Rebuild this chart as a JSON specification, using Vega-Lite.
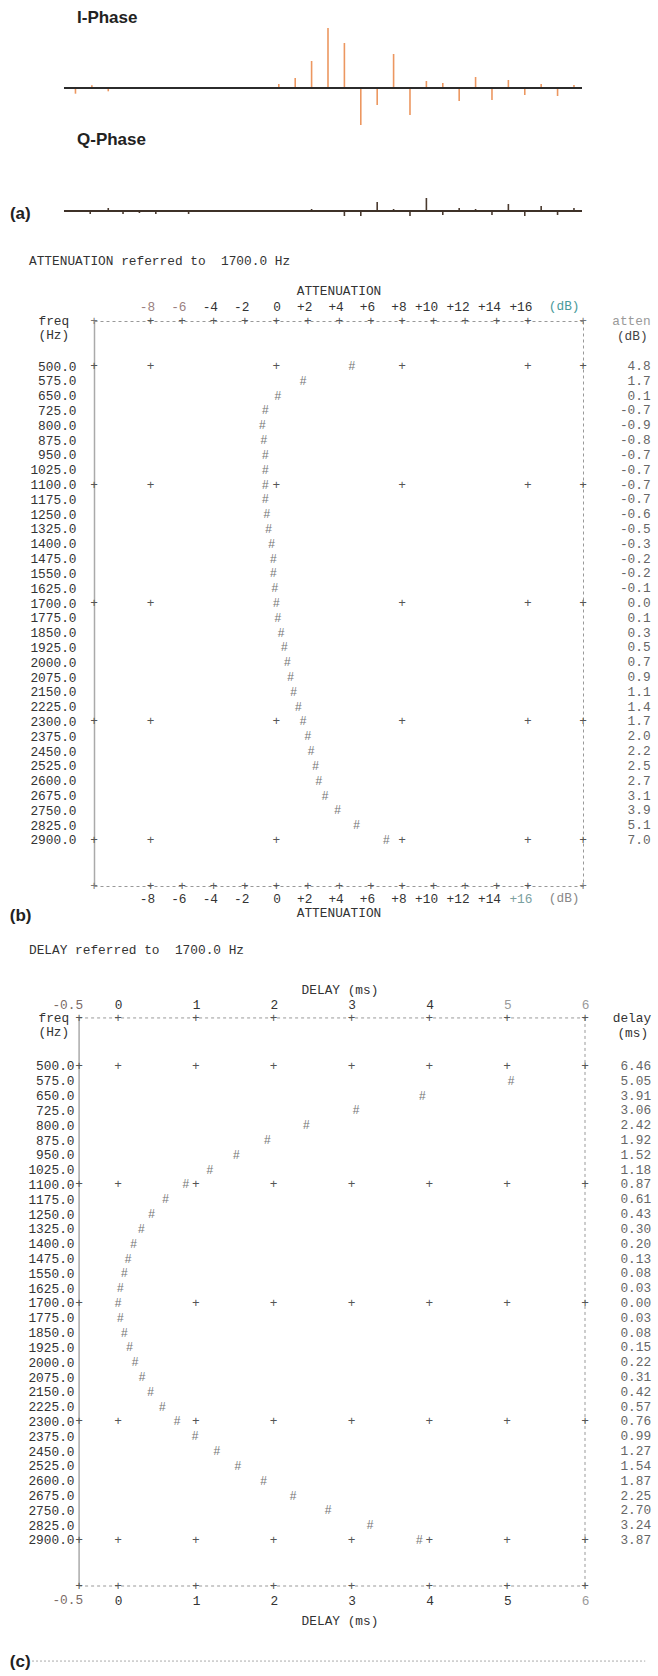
{
  "$schema": "https://vega.github.io/schema/vega-lite/v6.json",
  "padding": {"left": 9, "top": 9, "right": 0, "bottom": 0},
  "bounds": "flush",
  "spacing": 0,
  "config": {
    "view": {"stroke": null},
    "locale": {"number": {"decimal": ".", "thousands": ",", "grouping": [3], "currency": ["$", ""], "minus": "-"}},
    "axis": {"labelFont": "Liberation Mono", "titleFont": "Liberation Mono", "labelFontSize": 12.8, "titleFontSize": 12.8, "titleFontWeight": "normal", "labelColor": "#333", "titleColor": "#333", "grid": false},
    "text": {"font": "Liberation Mono", "fontSize": 12.8}
  },
  "datasets": {
    "iphase": [
      {"t": 0.7, "amp": -5.7}, {"t": 1.7, "amp": 2.7}, {"t": 2.7, "amp": -3.3},
      {"t": 12.1, "amp": 1}, {"t": 13.1, "amp": 4}, {"t": 14.1, "amp": 10}, {"t": 15.1, "amp": 27},
      {"t": 16.1, "amp": 60}, {"t": 17.1, "amp": 45}, {"t": 18.1, "amp": -37}, {"t": 19.1, "amp": -17},
      {"t": 20.1, "amp": 34}, {"t": 21.1, "amp": -27}, {"t": 22.1, "amp": 7}, {"t": 23.1, "amp": 5},
      {"t": 24.1, "amp": -13}, {"t": 25.1, "amp": 11}, {"t": 26.1, "amp": -12}, {"t": 27.1, "amp": 8},
      {"t": 28.1, "amp": -7}, {"t": 29.1, "amp": 4}, {"t": 30.1, "amp": -8}, {"t": 31.1, "amp": 3}
    ],
    "qphase": [
      {"t": 1.6, "amp": -3}, {"t": 2.7, "amp": 3}, {"t": 3.6, "amp": -3}, {"t": 4.6, "amp": -2},
      {"t": 5.6, "amp": -3}, {"t": 7.6, "amp": -3}, {"t": 14.0, "amp": 1}, {"t": 15.1, "amp": 2},
      {"t": 17.1, "amp": -5}, {"t": 18.1, "amp": -5}, {"t": 19.1, "amp": 9}, {"t": 20.1, "amp": 2},
      {"t": 21.1, "amp": -5}, {"t": 22.1, "amp": 13}, {"t": 23.1, "amp": -4}, {"t": 24.1, "amp": 3},
      {"t": 25.1, "amp": 2}, {"t": 26.1, "amp": -4}, {"t": 27.1, "amp": 7}, {"t": 28.1, "amp": -5},
      {"t": 29.1, "amp": 5}, {"t": 30.1, "amp": -4}, {"t": 31.1, "amp": 3}
    ],
    "resp": [
      {"freq": 500, "atten": 4.8, "delay": 6.46},
      {"freq": 575, "atten": 1.7, "delay": 5.05},
      {"freq": 650, "atten": 0.1, "delay": 3.91},
      {"freq": 725, "atten": -0.7, "delay": 3.06},
      {"freq": 800, "atten": -0.9, "delay": 2.42},
      {"freq": 875, "atten": -0.8, "delay": 1.92},
      {"freq": 950, "atten": -0.7, "delay": 1.52},
      {"freq": 1025, "atten": -0.7, "delay": 1.18},
      {"freq": 1100, "atten": -0.7, "delay": 0.87},
      {"freq": 1175, "atten": -0.7, "delay": 0.61},
      {"freq": 1250, "atten": -0.6, "delay": 0.43},
      {"freq": 1325, "atten": -0.5, "delay": 0.30},
      {"freq": 1400, "atten": -0.3, "delay": 0.20},
      {"freq": 1475, "atten": -0.2, "delay": 0.13},
      {"freq": 1550, "atten": -0.2, "delay": 0.08},
      {"freq": 1625, "atten": -0.1, "delay": 0.03},
      {"freq": 1700, "atten": 0.0, "delay": 0.00},
      {"freq": 1775, "atten": 0.1, "delay": 0.03},
      {"freq": 1850, "atten": 0.3, "delay": 0.08},
      {"freq": 1925, "atten": 0.5, "delay": 0.15},
      {"freq": 2000, "atten": 0.7, "delay": 0.22},
      {"freq": 2075, "atten": 0.9, "delay": 0.31},
      {"freq": 2150, "atten": 1.1, "delay": 0.42},
      {"freq": 2225, "atten": 1.4, "delay": 0.57},
      {"freq": 2300, "atten": 1.7, "delay": 0.76},
      {"freq": 2375, "atten": 2.0, "delay": 0.99},
      {"freq": 2450, "atten": 2.2, "delay": 1.27},
      {"freq": 2525, "atten": 2.5, "delay": 1.54},
      {"freq": 2600, "atten": 2.7, "delay": 1.87},
      {"freq": 2675, "atten": 3.1, "delay": 2.25},
      {"freq": 2750, "atten": 3.9, "delay": 2.70},
      {"freq": 2825, "atten": 5.1, "delay": 3.24},
      {"freq": 2900, "atten": 7.0, "delay": 3.87}
    ],
    "rowsMajor": [{"freq": 500}, {"freq": 1100}, {"freq": 1700}, {"freq": 2300}, {"freq": 2900}],
    "ticksB": [{"db": -8}, {"db": -6}, {"db": -4}, {"db": -2}, {"db": 0}, {"db": 2}, {"db": 4}, {"db": 6}, {"db": 8}, {"db": 10}, {"db": 12}, {"db": 14}, {"db": 16}],
    "ticksC": [{"ms": -0.5}, {"ms": 0}, {"ms": 1}, {"ms": 2}, {"ms": 3}, {"ms": 4}, {"ms": 5}, {"ms": 6}],
    "gridB": [
      {"freq": 500, "db": -8}, {"freq": 500, "db": 0}, {"freq": 500, "db": 8}, {"freq": 500, "db": 16},
      {"freq": 1100, "db": -8}, {"freq": 1100, "db": 0}, {"freq": 1100, "db": 8}, {"freq": 1100, "db": 16},
      {"freq": 1700, "db": -8}, {"freq": 1700, "db": 8}, {"freq": 1700, "db": 16},
      {"freq": 2300, "db": -8}, {"freq": 2300, "db": 0}, {"freq": 2300, "db": 8}, {"freq": 2300, "db": 16},
      {"freq": 2900, "db": -8}, {"freq": 2900, "db": 0}, {"freq": 2900, "db": 8}, {"freq": 2900, "db": 16}
    ],
    "gridC": [
      {"freq": 500, "ms": 0}, {"freq": 500, "ms": 1}, {"freq": 500, "ms": 2}, {"freq": 500, "ms": 3}, {"freq": 500, "ms": 4}, {"freq": 500, "ms": 5},
      {"freq": 1100, "ms": 0}, {"freq": 1100, "ms": 1}, {"freq": 1100, "ms": 2}, {"freq": 1100, "ms": 3}, {"freq": 1100, "ms": 4}, {"freq": 1100, "ms": 5},
      {"freq": 1700, "ms": 1}, {"freq": 1700, "ms": 2}, {"freq": 1700, "ms": 3}, {"freq": 1700, "ms": 4}, {"freq": 1700, "ms": 5},
      {"freq": 2300, "ms": 0}, {"freq": 2300, "ms": 1}, {"freq": 2300, "ms": 2}, {"freq": 2300, "ms": 3}, {"freq": 2300, "ms": 4}, {"freq": 2300, "ms": 5},
      {"freq": 2900, "ms": 0}, {"freq": 2900, "ms": 1}, {"freq": 2900, "ms": 2}, {"freq": 2900, "ms": 3}, {"freq": 2900, "ms": 4}, {"freq": 2900, "ms": 5}
    ]
  },
  "vconcat": [
    {
      "width": 488, "height": 124,
      "title": {"text": "I-Phase", "anchor": "start", "frame": "group", "dx": -17, "offset": -15, "baseline": "alphabetic", "font": "Liberation Sans", "fontSize": 17, "fontWeight": "bold", "color": "#222"},
      "layer": [
        {
          "data": {"name": "iphase"},
          "mark": {"type": "rule", "color": "#ec9760", "strokeWidth": 1.6},
          "encoding": {
            "x": {"field": "t", "type": "quantitative", "scale": {"domain": [1.83, 31.59], "nice": false, "zero": false}, "axis": null},
            "y": {"field": "amp", "type": "quantitative", "scale": {"domain": [-61, 63], "nice": false, "zero": false}, "axis": null},
            "y2": {"datum": 0}
          }
        },
        {
          "data": {"values": [{}]},
          "mark": {"type": "rule", "color": "#2b2b2b", "strokeWidth": 2},
          "encoding": {
            "x": {"datum": 0, "type": "quantitative", "axis": null},
            "x2": {"datum": 31.59},
            "y": {"datum": 0, "type": "quantitative", "axis": null}
          }
        }
      ]
    },
    {
      "width": 488, "height": 172,
      "title": {"text": "Q-Phase", "anchor": "start", "frame": "group", "dx": -17, "offset": -13, "baseline": "alphabetic", "font": "Liberation Sans", "fontSize": 17, "fontWeight": "bold", "color": "#222"},
      "layer": [
        {
          "data": {"name": "qphase"},
          "mark": {"type": "rule", "color": "#4a3a2f", "strokeWidth": 1.6},
          "encoding": {
            "x": {"field": "t", "type": "quantitative", "scale": {"domain": [1.83, 31.59], "nice": false, "zero": false}, "axis": null},
            "y": {"field": "amp", "type": "quantitative", "scale": {"domain": [-110, 62], "nice": false, "zero": false}, "axis": null},
            "y2": {"datum": 0}
          }
        },
        {
          "data": {"values": [{}]},
          "mark": {"type": "rule", "color": "#3e3128", "strokeWidth": 2},
          "encoding": {
            "x": {"datum": 0, "type": "quantitative", "axis": null},
            "x2": {"datum": 31.59},
            "y": {"datum": 0, "type": "quantitative", "axis": null}
          }
        },
        {
          "data": {"values": [{}]},
          "mark": {"type": "text", "text": "(a)", "font": "Liberation Sans", "fontSize": 17, "fontWeight": "bold", "align": "left", "color": "#222"},
          "encoding": {
            "x": {"datum": -3.3, "type": "quantitative", "axis": null},
            "y": {"datum": -3, "type": "quantitative", "axis": null}
          }
        }
      ]
    },
    {
      "width": 489, "height": 565,
      "title": {"text": "ATTENUATION referred to \u00a01700.0 Hz", "anchor": "start", "frame": "group", "dx": -65, "offset": 6, "baseline": "alphabetic", "font": "Liberation Mono", "fontSize": 12.8, "fontWeight": "normal", "color": "#333"},
      "resolve": {"axis": {"x": "independent", "y": "independent"}},
      "layer": [
        {
          "data": {"name": "gridB"},
          "mark": {"type": "text", "text": "+", "color": "#555"},
          "encoding": {
            "x": {"field": "db", "type": "quantitative", "scale": {"domain": [-11.6, 19.5], "nice": false, "zero": false},
              "axis": {"orient": "bottom", "values": [-8, -6, -4, -2, 0, 2, 4, 6, 8, 10, 12, 14, 16], "labelExpr": "datum.value > 0 ? '+' + datum.value : '' + datum.value", "labelAlign": "right", "labelOffset": 4, "labelColor": {"condition": {"test": "datum.value == 16", "value": "#7aa0a0"}, "value": "#333"}, "ticks": false, "tickSize": 0, "labelPadding": 6, "domainDash": [3, 3], "domainColor": "#999", "title": "ATTENUATION", "titlePadding": 2}},
            "y": {"field": "freq", "type": "quantitative", "scale": {"domain": [272, 3133], "reverse": true, "nice": false, "zero": false},
              "axis": {"orient": "right", "labels": false, "ticks": false, "tickSize": 0, "domainDash": [3, 3], "domainColor": "#999", "title": null}}
          }
        },
        {
          "data": {"name": "resp"},
          "mark": {"type": "text", "text": "#", "color": "#777", "fontSize": 12},
          "encoding": {
            "x": {"field": "atten", "type": "quantitative",
              "axis": {"orient": "top", "values": [-8, -6, -4, -2, 0, 2, 4, 6, 8, 10, 12, 14, 16], "labelExpr": "datum.value > 0 ? '+' + datum.value : '' + datum.value", "labelAlign": "right", "labelOffset": 4, "labelColor": {"condition": {"test": "datum.value <= -6", "value": "#9a8080"}, "value": "#333"}, "ticks": false, "tickSize": 0, "labelPadding": 8, "domainDash": [3, 3], "domainColor": "#999", "title": "ATTENUATION", "titlePadding": 3}},
            "y": {"field": "freq", "type": "quantitative",
              "axis": {"orient": "left", "values": [500, 575, 650, 725, 800, 875, 950, 1025, 1100, 1175, 1250, 1325, 1400, 1475, 1550, 1625, 1700, 1775, 1850, 1925, 2000, 2075, 2150, 2225, 2300, 2375, 2450, 2525, 2600, 2675, 2750, 2825, 2900], "format": ".1f", "ticks": false, "tickSize": 0, "labelPadding": 18, "domainColor": "#aaa", "domainWidth": 1.5, "title": ["freq", "(Hz)"], "titleAngle": 0, "titleAlign": "left", "titleBaseline": "top", "titleX": -56, "titleY": -7, "titleLineHeight": 14.8}}
          }
        },
        {
          "data": {"name": "ticksB"},
          "mark": {"type": "text", "text": "+", "color": "#555"},
          "encoding": {"x": {"field": "db", "type": "quantitative", "axis": null}, "y": {"datum": 272, "type": "quantitative", "axis": null}}
        },
        {
          "data": {"name": "ticksB"},
          "mark": {"type": "text", "text": "+", "color": "#555"},
          "encoding": {"x": {"field": "db", "type": "quantitative", "axis": null}, "y": {"datum": 3133, "type": "quantitative", "axis": null}}
        },
        {
          "data": {"name": "rowsMajor"},
          "mark": {"type": "text", "text": "+", "color": "#555"},
          "encoding": {"x": {"datum": -11.6, "type": "quantitative", "axis": null}, "y": {"field": "freq", "type": "quantitative", "axis": null}}
        },
        {
          "data": {"name": "rowsMajor"},
          "mark": {"type": "text", "text": "+", "color": "#555"},
          "encoding": {"x": {"datum": 19.5, "type": "quantitative", "axis": null}, "y": {"field": "freq", "type": "quantitative", "axis": null}}
        },
        {"data": {"values": [{}]}, "mark": {"type": "text", "text": "+", "color": "#777"}, "encoding": {"x": {"datum": -11.6, "type": "quantitative", "axis": null}, "y": {"datum": 272, "type": "quantitative", "axis": null}}},
        {"data": {"values": [{}]}, "mark": {"type": "text", "text": "+", "color": "#777"}, "encoding": {"x": {"datum": 19.5, "type": "quantitative", "axis": null}, "y": {"datum": 272, "type": "quantitative", "axis": null}}},
        {"data": {"values": [{}]}, "mark": {"type": "text", "text": "+", "color": "#777"}, "encoding": {"x": {"datum": -11.6, "type": "quantitative", "axis": null}, "y": {"datum": 3133, "type": "quantitative", "axis": null}}},
        {"data": {"values": [{}]}, "mark": {"type": "text", "text": "+", "color": "#777"}, "encoding": {"x": {"datum": 19.5, "type": "quantitative", "axis": null}, "y": {"datum": 3133, "type": "quantitative", "axis": null}}},
        {
          "data": {"name": "resp"},
          "mark": {"type": "text", "align": "right", "color": "#666"},
          "encoding": {
            "x": {"datum": 23.8, "type": "quantitative", "axis": null},
            "y": {"field": "freq", "type": "quantitative", "axis": null},
            "text": {"field": "atten", "type": "quantitative", "format": ".1f"}
          }
        },
        {"data": {"values": [{}]}, "mark": {"type": "text", "text": "atten", "align": "right", "color": "#999"}, "encoding": {"x": {"datum": 23.8, "type": "quantitative", "axis": null}, "y": {"datum": 272, "type": "quantitative", "axis": null}}},
        {"data": {"values": [{}]}, "mark": {"type": "text", "text": "(dB)", "align": "right", "dx": -3, "color": "#444"}, "encoding": {"x": {"datum": 23.8, "type": "quantitative", "axis": null}, "y": {"datum": 347, "type": "quantitative", "axis": null}}},
        {"data": {"values": [{}]}, "mark": {"type": "text", "text": "(dB)", "color": "#4a9a9a"}, "encoding": {"x": {"datum": 18.3, "type": "quantitative", "axis": null}, "y": {"datum": 196, "type": "quantitative", "axis": null}}},
        {"data": {"values": [{}]}, "mark": {"type": "text", "text": "(dB)", "color": "#888"}, "encoding": {"x": {"datum": 18.3, "type": "quantitative", "axis": null}, "y": {"datum": 3194, "type": "quantitative", "axis": null}}}
      ]
    },
    {
      "width": 491, "height": 700,
      "title": {"text": "DELAY referred to \u00a01700.0 Hz", "anchor": "start", "frame": "group", "dx": -65, "offset": -81, "baseline": "alphabetic", "font": "Liberation Mono", "fontSize": 12.8, "fontWeight": "normal", "color": "#333"},
      "resolve": {"axis": {"x": "independent", "y": "independent"}},
      "layer": [
        {"data": {"values": [{}]}, "mark": {"type": "rule", "color": "#999", "strokeDash": [3, 3]}, "encoding": {"x": {"datum": -0.5, "type": "quantitative", "axis": null}, "x2": {"datum": 6}, "y": {"datum": 257, "type": "quantitative", "axis": null}}},
        {"data": {"values": [{}]}, "mark": {"type": "rule", "color": "#999", "strokeDash": [3, 3]}, "encoding": {"x": {"datum": -0.5, "type": "quantitative", "axis": null}, "x2": {"datum": 6}, "y": {"datum": 3133, "type": "quantitative", "axis": null}}},
        {"data": {"values": [{}]}, "mark": {"type": "rule", "color": "#aaa", "strokeWidth": 1.5}, "encoding": {"x": {"datum": -0.5, "type": "quantitative", "axis": null}, "y": {"datum": 257, "type": "quantitative", "axis": null}, "y2": {"datum": 3133}}},
        {"data": {"values": [{}]}, "mark": {"type": "rule", "color": "#999", "strokeDash": [3, 3]}, "encoding": {"x": {"datum": 6, "type": "quantitative", "axis": null}, "y": {"datum": 257, "type": "quantitative", "axis": null}, "y2": {"datum": 3133}}},
        {"data": {"values": [{}]}, "mark": {"type": "rule", "color": "#aaa", "strokeDash": [2, 2]}, "encoding": {"x": {"datum": -1.105, "type": "quantitative", "axis": null}, "x2": {"datum": 6.774}, "y": {"datum": 3513, "type": "quantitative", "axis": null}}},
        {
          "data": {"name": "gridC"},
          "mark": {"type": "text", "text": "+", "color": "#555"},
          "encoding": {
            "x": {"field": "ms", "type": "quantitative", "scale": {"domain": [-0.3085, 6.0], "nice": false, "zero": false},
              "axis": {"orient": "bottom", "values": [0, 1, 2, 3, 4, 5, 6], "labelExpr": "'' + datum.value", "labelAlign": "right", "labelOffset": 4, "labelColor": {"condition": {"test": "datum.value == 6", "value": "#999"}, "value": "#333"}, "domain": false, "ticks": false, "tickSize": 0, "labelPadding": 8, "title": "DELAY (ms)", "titlePadding": 8}},
            "y": {"field": "freq", "type": "quantitative", "scale": {"domain": [-411, 3133], "reverse": true, "nice": false, "zero": false}, "axis": null}
          }
        },
        {
          "data": {"name": "resp"},
          "transform": [{"filter": "datum.delay <= 6"}],
          "mark": {"type": "text", "text": "#", "color": "#777", "fontSize": 12},
          "encoding": {
            "x": {"field": "delay", "type": "quantitative",
              "axis": {"orient": "top", "offset": -132, "values": [0, 1, 2, 3, 4, 5, 6], "labelExpr": "'' + datum.value", "labelAlign": "right", "labelOffset": 4, "labelColor": {"condition": {"test": "datum.value >= 5", "value": "#999"}, "value": "#333"}, "domain": false, "ticks": false, "tickSize": 0, "labelPadding": 7, "title": "DELAY (ms)", "titlePadding": 2}},
            "y": {"field": "freq", "type": "quantitative",
              "axis": {"orient": "left", "offset": 15, "values": [500, 575, 650, 725, 800, 875, 950, 1025, 1100, 1175, 1250, 1325, 1400, 1475, 1550, 1625, 1700, 1775, 1850, 1925, 2000, 2075, 2150, 2225, 2300, 2375, 2450, 2525, 2600, 2675, 2750, 2825, 2900], "format": ".1f", "domain": false, "ticks": false, "tickSize": 0, "labelPadding": 5, "title": ["freq", "(Hz)"], "titleAngle": 0, "titleAlign": "left", "titleBaseline": "top", "titleX": -41, "titleY": 125, "titleLineHeight": 14.8}}
          }
        },
        {"data": {"values": [{}]}, "mark": {"type": "text", "text": "-0.5", "align": "right", "dx": 4, "color": "#7a6a66"}, "encoding": {"x": {"datum": -0.5, "type": "quantitative", "axis": null}, "y": {"datum": 191, "type": "quantitative", "axis": null}}},
        {"data": {"values": [{}]}, "mark": {"type": "text", "text": "-0.5", "align": "right", "dx": 4, "color": "#7a6a66"}, "encoding": {"x": {"datum": -0.5, "type": "quantitative", "axis": null}, "y": {"datum": 3204, "type": "quantitative", "axis": null}}},
        {
          "data": {"name": "ticksC"},
          "mark": {"type": "text", "text": "+", "color": "#555"},
          "encoding": {"x": {"field": "ms", "type": "quantitative", "axis": null}, "y": {"datum": 257, "type": "quantitative", "axis": null}}
        },
        {
          "data": {"name": "ticksC"},
          "mark": {"type": "text", "text": "+", "color": "#555"},
          "encoding": {"x": {"field": "ms", "type": "quantitative", "axis": null}, "y": {"datum": 3133, "type": "quantitative", "axis": null}}
        },
        {
          "data": {"name": "rowsMajor"},
          "mark": {"type": "text", "text": "+", "color": "#555"},
          "encoding": {"x": {"datum": -0.5, "type": "quantitative", "axis": null}, "y": {"field": "freq", "type": "quantitative", "axis": null}}
        },
        {
          "data": {"name": "rowsMajor"},
          "mark": {"type": "text", "text": "+", "color": "#555"},
          "encoding": {"x": {"datum": 6, "type": "quantitative", "axis": null}, "y": {"field": "freq", "type": "quantitative", "axis": null}}
        },
        {
          "data": {"name": "resp"},
          "mark": {"type": "text", "align": "right", "color": "#666"},
          "encoding": {
            "x": {"datum": 6.85, "type": "quantitative", "axis": null},
            "y": {"field": "freq", "type": "quantitative", "axis": null},
            "text": {"field": "delay", "type": "quantitative", "format": ".2f"}
          }
        },
        {"data": {"values": [{}]}, "mark": {"type": "text", "text": "delay", "align": "right", "color": "#333"}, "encoding": {"x": {"datum": 6.85, "type": "quantitative", "axis": null}, "y": {"datum": 257, "type": "quantitative", "axis": null}}},
        {"data": {"values": [{}]}, "mark": {"type": "text", "text": "(ms)", "align": "right", "dx": -3, "color": "#333"}, "encoding": {"x": {"datum": 6.85, "type": "quantitative", "axis": null}, "y": {"datum": 332, "type": "quantitative", "axis": null}}},
        {"data": {"values": [{}]}, "mark": {"type": "text", "text": "(b)", "font": "Liberation Sans", "fontSize": 17, "fontWeight": "bold", "align": "left", "color": "#222"}, "encoding": {"x": {"datum": -1.39, "type": "quantitative", "axis": null}, "y": {"datum": -259, "type": "quantitative", "axis": null}}},
        {"data": {"values": [{}]}, "mark": {"type": "text", "text": "(c)", "font": "Liberation Sans", "fontSize": 17, "fontWeight": "bold", "align": "left", "color": "#222"}, "encoding": {"x": {"datum": -1.39, "type": "quantitative", "axis": null}, "y": {"datum": 3518, "type": "quantitative", "axis": null}}}
      ]
    }
  ]
}
